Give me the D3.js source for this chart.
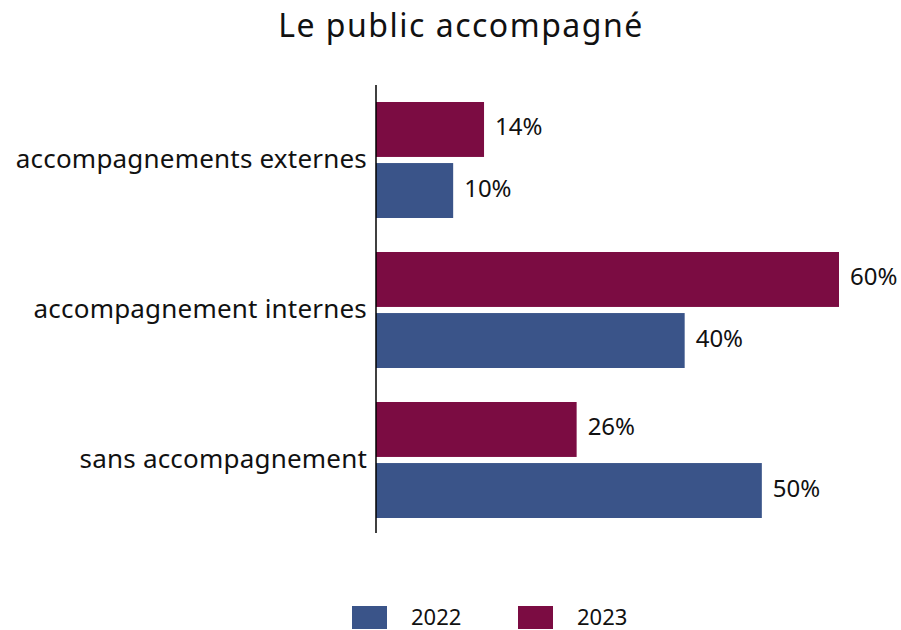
<!DOCTYPE html>
<html>
<head>
<meta charset="utf-8" />
<title>Le public accompagné</title>
<script src="https://cdn.jsdelivr.net/npm/d3@7/dist/d3.min.js"></script>
<style>
    body { margin: 0; background: #fff; }
    svg text { font-family: "Noto Sans", sans-serif; fill: #111; }
</style>
</head>
<body>
<svg id="chart" width="901" height="630"></svg>
<script>
    // data
    var categories = ["accompagnements externes", "accompagnement internes", "sans accompagnement"];
    var years = ["2023", "2022"];
    var values2022 = [10, 40, 50];
    var values2023 = [14, 60, 26];
    var legendOrder = ["2022", "2023"];

    var colors = { "2022": "#3A5489", "2023": "#7B0C42" };

    var svg = d3.select("#chart");
    var left = 376;

    svg.append("text")
        .attr("x", 461).attr("y", 37)
        .attr("text-anchor", "middle")
        .style("font-size", "32px")
        .style("letter-spacing", "1.5px")
        .text("Le public accompagné");

    var x = d3.scaleLinear().domain([0, 60]).range([left, 839]);
    var y0 = d3.scaleBand().domain(categories).range([85, 535]);
    var y1 = d3.scaleBand().domain(years).range([17, 133]).paddingInner(0.1);

    var rows = categories.map(function (c, i) {
        return { cat: c, vals: { "2022": values2022[i], "2023": values2023[i] } };
    });

    var g = svg.selectAll("g.grp").data(rows).enter().append("g")
        .attr("class", "grp")
        .attr("transform", function (d) { return "translate(0," + y0(d.cat) + ")"; });

    g.selectAll("rect").data(function (d) {
        return years.map(function (yr) { return { yr: yr, v: d.vals[yr] }; });
    }).enter().append("rect")
        .attr("x", left)
        .attr("y", function (d) { return y1(d.yr); })
        .attr("width", function (d) { return x(d.v) - left; })
        .attr("height", y1.bandwidth())
        .attr("fill", function (d) { return colors[d.yr]; });

    g.selectAll("text.val").data(function (d) {
        return years.map(function (yr) { return { yr: yr, v: d.vals[yr] }; });
    }).enter().append("text")
        .attr("class", "val")
        .attr("x", function (d) { return x(d.v) + 11; })
        .attr("y", function (d) { return y1(d.yr) + y1.bandwidth() / 2; })
        .attr("dy", "0.25em")
        .style("font-size", "24px")
        .text(function (d) { return d.v + "%"; });

    // category axis
    var axis = svg.append("g").attr("transform", "translate(" + left + ",0)")
        .call(d3.axisLeft(y0).tickSize(0).tickPadding(9));
    axis.select(".domain").attr("stroke", "#000").attr("stroke-width", 1.5)
        .attr("d", "M0,85V533");
    axis.selectAll(".tick text")
        .style("font-size", "26px")
        .style("font-family", "'Noto Sans', sans-serif")
        .style("letter-spacing", "0.2px")
        .attr("fill", "#111")
        .attr("dy", "0.3em");

    // legend
    var lx = d3.scalePoint().domain(legendOrder).range([352, 518]);
    var lg = svg.selectAll("g.leg").data(legendOrder).enter().append("g")
        .attr("class", "leg")
        .attr("transform", function (d) { return "translate(" + lx(d) + ",606)"; });
    lg.append("rect").attr("width", 35).attr("height", 23)
        .attr("fill", function (d) { return colors[d]; });
    lg.append("text").attr("x", 59).attr("y", 19)
        .style("font-size", "22px")
        .text(function (d) { return d; });
</script>
</body>
</html>
